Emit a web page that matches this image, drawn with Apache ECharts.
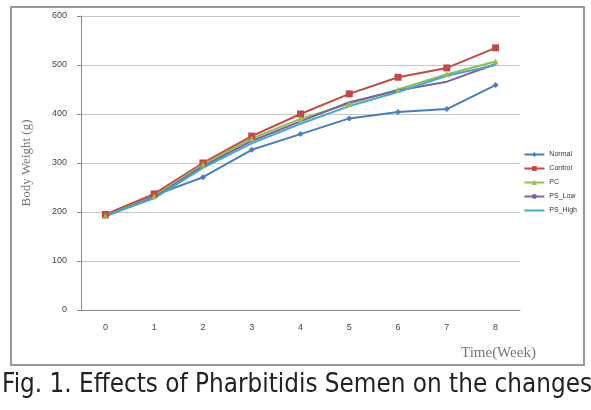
<!DOCTYPE html>
<html>
<head>
<meta charset="utf-8">
<title>Body Weight</title>
<style>body{margin:0;background:#fff}</style>
</head>
<body>
<div id="main" style="width:591px;height:410px;"></div>
<script src="https://cdn.jsdelivr.net/npm/echarts@6/dist/echarts.min.js"></script>
<script>
// weeks on x axis
var weeks = ['0', '1', '2', '3', '4', '5', '6', '7', '8'];
// body weight (g)
var normal  = [193, 234, 271, 327, 359, 391, 404, 410, 459];
var control = [195, 237, 300, 355, 400, 441, 475, 494, 535];
var pc      = [192, 232, 297, 350, 390, 421, 450, 481, 507];
var psLow   = [191, 230, 293, 345, 385, 424, 448, 466, 502];
var psHigh  = [192, 228, 290, 340, 380, 416, 445, 478, 500];

var caption = 'Fig. 1. Effects of Pharbitidis Semen on the changes';
var capFont = '26px "DejaVu Sans"';
// squeeze the caption to the width it has in the figure
var ctx = document.createElement('canvas').getContext('2d');
ctx.font = capFont;
var capScale = 590 / ctx.measureText(caption).width;

var chart = echarts.init(document.getElementById('main'));

function line(name, data, color, symbol, size) {
    return {
        name: name, type: 'line', data: data,
        symbol: symbol, symbolSize: size,
        lineStyle: {color: color, width: 2},
        itemStyle: {color: color},
        animation: false
    };
}

chart.setOption({
    animation: false,
    grid: {left: 81, right: 71, top: 16, bottom: 100},
    legend: {
        orient: 'vertical', right: 9, top: 146,
        itemWidth: 20, itemHeight: 6, itemGap: 7,
        textStyle: {fontSize: 7, color: '#333'},
        data: ['Normal', 'Control', 'PC', 'PS_Low', 'PS_High']
    },
    xAxis: {
        type: 'category', data: weeks,
        axisLine: {lineStyle: {color: '#888'}},
        axisTick: {length: 4, lineStyle: {color: '#888'}},
        axisLabel: {fontSize: 9, color: '#444', margin: 13}
    },
    yAxis: {
        type: 'value', min: 0, max: 600, interval: 100,
        axisLine: {show: true, lineStyle: {color: '#888'}},
        axisTick: {show: true, length: 4, lineStyle: {color: '#888'}},
        splitLine: {lineStyle: {color: '#c8c8c8'}},
        axisLabel: {fontSize: 9, color: '#444', margin: 14},
        name: 'Body Weight (g)', nameLocation: 'middle', nameGap: 48,
        nameTextStyle: {fontFamily: 'Liberation Serif', fontSize: 13, color: '#777'}
    },
    graphic: [{
        type: 'rect', shape: {x: 11, y: 7, width: 573, height: 358},
        style: {fill: 'none', stroke: '#999', lineWidth: 2}, z: -1
    }, {
        type: 'text', x: 461, y: 346,
        style: {text: 'Time(Week)', font: '15px "Liberation Serif"', fill: '#777'}
    }, {
        type: 'text', x: 2, y: 372, scaleX: capScale,
        style: {text: caption, font: capFont, fill: '#222'}
    }],
    series: [
        line('Normal', normal, '#4a7ebb', 'diamond', 6),
        line('Control', control, '#be4b48', 'rect', 7),
        line('PC', pc, '#98b954', 'triangle', 6),
        line('PS_Low', psLow, '#7d60a0', 'none', 5),
        line('PS_High', psHigh, '#46aac5', 'path://M0,5L10,5M5,0L5,10', 6)
    ]
});
</script>
</body>
</html>
